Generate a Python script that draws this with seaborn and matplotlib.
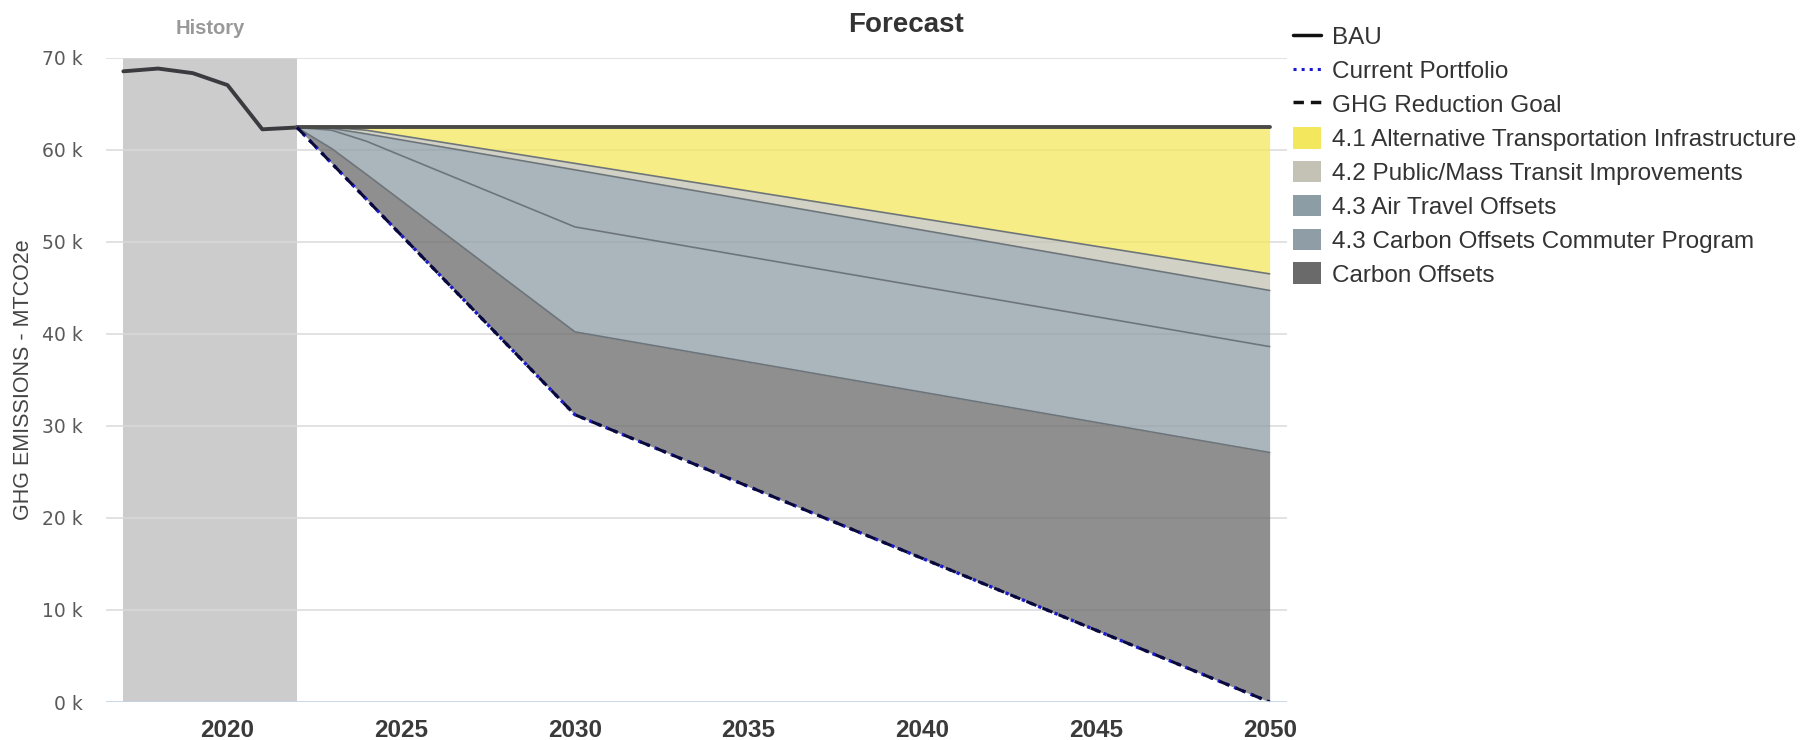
import matplotlib
matplotlib.use("Agg")
import matplotlib.pyplot as plt
import matplotlib.transforms as mtransforms
from matplotlib.lines import Line2D
from matplotlib.patches import Patch
import numpy as np
import seaborn as sns

# ---- data -------------------------------------------------------------
history_years = [2017, 2018, 2019, 2020, 2021, 2022]
history_emissions = [68500, 68800, 68300, 67000, 62200, 62400]

forecast_years = [2022, 2023, 2024, 2030, 2050]
bau_forecast = [62400, 62400, 62400, 62400, 62400]
ghg_goal = [62400, 58500, 54600, 31200, 0]

# reductions against BAU, listed from the bottom of the stack upward
carbon_offsets = [0, 1600, 2700, 9000, 27100]
commuter_offsets = [0, 2000, 3600, 11400, 11500]
air_travel_offsets = [0, 200, 800, 6200, 6100]
transit_improvements = [0, 100, 400, 700, 1800]
alt_transportation = [0, 0, 300, 3900, 15900]

wedge_labels = [
    "Carbon Offsets",
    "4.3 Carbon Offsets Commuter Program",
    "4.3 Air Travel Offsets",
    "4.2 Public/Mass Transit Improvements",
    "4.1 Alternative Transportation Infrastructure",
]
wedge_values = [carbon_offsets, commuter_offsets, air_travel_offsets,
                transit_improvements, alt_transportation]
wedge_colors = ["#6a6a6a", "#8f9ea6", "#8d9da5", "#c3c2b4", "#f3e75e"]

y_ticks = [0, 10000, 20000, 30000, 40000, 50000, 60000, 70000]
x_ticks = [2020, 2025, 2030, 2035, 2040, 2045, 2050]

# ---- figure -----------------------------------------------------------
sns.set_theme(style="white")
plt.rcParams["font.family"] = ["Liberation Sans", "DejaVu Sans"]

fig = plt.figure(figsize=(18.13, 7.40), dpi=100)
ax = fig.add_axes([106 / 1813, 1 - 702 / 740, (1287 - 106) / 1813, (702 - 57.5) / 740])

years = np.array(forecast_years, dtype=float)
bau = np.array(bau_forecast, dtype=float)
stack = np.array(wedge_values, dtype=float)
current_portfolio = bau - stack.sum(axis=0)

# history band
ax.axvspan(2017, 2022, color="#cccccc", zorder=0.5, lw=0)

# horizontal grid
for v in y_ticks[1:]:
    ax.axhline(v, color="#dadada", lw=1.1, zorder=1)
ax.axhline(0, color="#c6d3e6", lw=2, zorder=6)

# stacked reduction wedges
lower = current_portfolio.copy()
for vals, color in zip(stack, wedge_colors):
    upper = lower + vals
    ax.fill_between(years, lower, upper, color=color, alpha=0.75, lw=0, zorder=2)
    ax.plot(years, upper, color="#6d757b", lw=1.2, zorder=3)
    lower = upper

# lines
sns.lineplot(x=history_years, y=history_emissions, ax=ax, color="#3b3b3f",
             lw=2.8, zorder=5)
sns.lineplot(x=forecast_years, y=bau_forecast, ax=ax, color="#4a4a48",
             lw=2.8, zorder=5)
sns.lineplot(x=years, y=current_portfolio, ax=ax, color="#1a1acc",
             lw=2.4, linestyle=":", zorder=5)
sns.lineplot(x=forecast_years, y=ghg_goal, ax=ax, color="#0a0a3a",
             lw=2.2, linestyle=(0, (3.5, 2.2)), zorder=5.5)

ax.set_xlim(2016.5, 2050.5)
ax.set_ylim(0, 70000)
for s in ax.spines.values():
    s.set_visible(False)

ax.set_yticks(y_ticks)
ax.set_yticklabels([f"{v // 1000} k" for v in y_ticks], family="DejaVu Sans",
                   fontsize=13.5, color="#5a5a5a")
ax.set_xticks(x_ticks)
ax.set_xticklabels([str(x) for x in x_ticks], fontsize=17.5, fontweight="bold",
                   color="#3a3a3a")
ax.tick_params(axis="y", length=0, pad=17)
ax.tick_params(axis="x", length=0, pad=12)

ax.set_ylabel("GHG EMISSIONS - MTCO2e", fontsize=15.5, color="#444444")
ax.yaxis.set_label_coords(-(106 - 34) / (1287 - 106), 0.5)

fig.text(0.5, 1 - 25 / 740, "Forecast", ha="center", va="center",
         fontsize=20, fontweight="bold", color="#333333")
trans = mtransforms.blended_transform_factory(ax.transData, fig.transFigure)
ax.text(2019.5, 1 - 29 / 740, "History", transform=trans, ha="center",
        va="center", fontsize=14.5, fontweight="bold", color="#999999")

# legend
handles = [
    Line2D([], [], color="#111111", lw=2.5),
    Line2D([], [], color="#1a1acc", lw=2.2, linestyle=":"),
    Line2D([], [], color="#111111", lw=2.5, linestyle=(0, (3, 2))),
]
labels = ["BAU", "Current Portfolio", "GHG Reduction Goal"]
for lab, col in reversed(list(zip(wedge_labels, wedge_colors))):
    handles.append(Patch(facecolor=col, edgecolor="none"))
    labels.append(lab)
fig.legend(handles, labels, loc="upper left",
           bbox_to_anchor=(1293 / 1813, 1 - 25 / 740), frameon=False,
           fontsize=17.5, labelcolor="#333333", handlelength=1.15,
           handleheight=1.0, handletextpad=0.45, labelspacing=0.4,
           borderpad=0, borderaxespad=0)

fig.savefig("out.png", dpi=100)
